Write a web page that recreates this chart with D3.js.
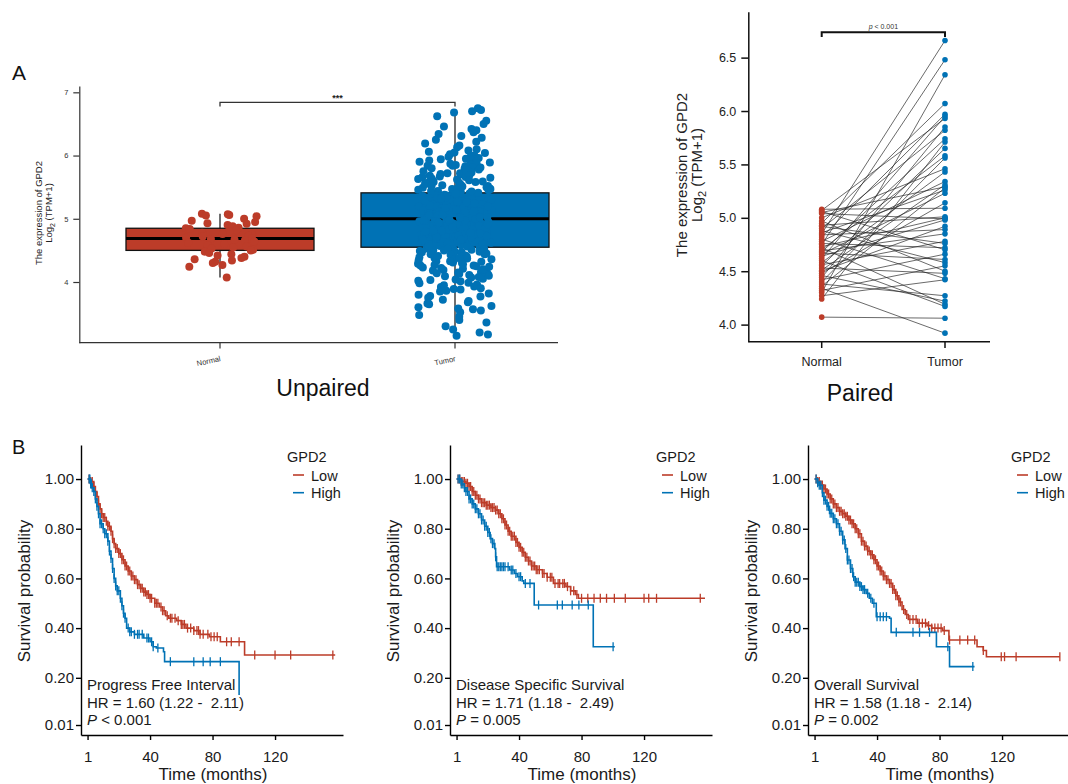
<!DOCTYPE html>
<html><head><meta charset="utf-8">
<script src="https://cdn.jsdelivr.net/npm/d3@7"></script>
<style>
body{margin:0;background:#fff;}
text{font-family:"Liberation Sans", Arial, Helvetica, sans-serif;white-space:pre;}
</style></head><body>
<svg id="c" width="1068" height="784"></svg>
<script>
const RED = "#BC3C29", BLUE = "#0072B5";
const groups = ["Normal", "Tumor"];

// ---- Panel A data ----
const normalVals = [5.08,5.07,5.06,5.05,5.04,5.00,4.97,4.95,4.93,4.92,4.90,4.88,4.86,4.85,4.84,4.82,4.80,4.78,4.76,4.75,
  4.73,4.72,4.70,4.69,4.68,4.67,4.66,4.64,4.62,4.60,4.58,4.56,4.55,4.53,4.51,4.50,4.48,4.46,4.44,4.42,
  4.40,4.38,4.36,4.34,4.32,4.30,4.27,4.24,4.07];
const tumorVals = [6.75,6.72,6.70,6.68,6.62,6.55,6.50,6.46,6.42,6.40,6.37,6.34,6.31,6.28,6.25,6.22,6.19,6.16,6.13,6.10,
  6.08,6.06,6.04,6.02,6.00,5.98,5.96,5.94,5.92,5.90,5.88,5.86,5.84,5.82,5.80,5.78,5.76,5.74,5.72,5.70,
  5.68,5.66,5.64,5.62,5.60,5.58,5.57,5.56,5.54,5.53,5.52,5.50,5.49,5.48,5.47,5.46,5.45,5.44,5.43,5.42,
  5.41,5.40,5.39,5.38,5.37,5.36,5.35,5.34,5.33,5.32,5.31,5.30,5.29,5.28,5.27,5.26,5.25,5.24,5.23,5.22,
  5.21,5.20,5.19,5.18,5.17,5.16,5.15,5.14,5.13,5.12,5.11,5.10,5.09,5.08,5.07,5.06,5.05,5.04,5.03,5.02,
  5.01,5.00,4.99,4.98,4.97,4.96,4.95,4.94,4.93,4.92,4.91,4.90,4.89,4.88,4.87,4.86,4.85,4.84,4.83,4.82,
  4.81,4.80,4.79,4.78,4.77,4.76,4.75,4.74,4.73,4.72,4.71,4.70,4.69,4.68,4.67,4.66,4.65,4.64,4.63,4.62,
  4.61,4.60,4.59,4.58,4.57,4.56,4.55,
  5.35,5.31,5.27,5.22,5.18,5.13,5.08,5.04,5.01,4.99,4.97,4.93,4.88,4.84,4.79,4.74,4.69,4.64,4.60,4.57,
  5.25,5.15,5.05,4.95,4.85,4.75,4.65,5.38,5.20,5.10,5.00,4.90,4.80,4.70,4.62,5.92,5.84,5.72,5.66,5.58,
  4.54,4.53,4.52,4.51,4.50,4.48,4.47,4.46,4.45,4.43,4.42,4.40,4.38,4.36,4.35,4.33,4.31,4.29,4.27,4.25,
  4.23,4.21,4.19,4.17,4.15,4.13,4.11,4.09,4.07,4.05,4.03,4.01,3.99,3.96,3.93,3.90,3.88,3.85,3.82,3.80,
  3.78,3.75,3.72,3.70,3.68,3.65,3.62,3.60,3.57,3.55,3.52,3.48,3.45,3.40,3.36,3.30,3.25,3.20,3.17,3.15,
  4.48,4.44,4.39,4.32,4.26,4.18,4.12,
  5.90,5.87,5.83,5.79,5.75,5.71,5.67,5.63,5.59,5.55,5.51,5.47,5.44,5.41,5.39,5.36,5.33,5.30,5.28,5.26,
  5.23,5.21,5.19,5.16,5.14,5.12,5.10,5.07,5.05,5.03,5.02,5.00,4.98,4.96,4.94,4.92,4.90,4.88,4.86,4.83,
  4.81,4.78,4.76,4.73,4.71,4.68,4.66,4.63,4.61,4.58,4.56,4.53,4.50,4.47,4.44,4.41,4.37,4.34,4.30,4.26,
  4.22,4.16,4.10,4.04,3.98,3.92,3.86,3.77,3.66,3.58,
  6.05,5.99,5.95,5.89,5.85,5.81,5.77,5.73,5.69,5.65,5.61,5.57,5.52,5.48,5.43,5.40,5.37,5.34,5.32,5.29,
  5.24,5.20,5.17,5.11,5.06,5.02,4.98,4.95,4.91,4.87,4.82,4.77,4.72,4.67,4.62,4.57,4.52,4.49,4.45,4.41,
  4.38,4.33,4.28,4.24,4.20,4.14,4.08,4.02,3.95,3.89];
const boxQ1 = [4.50, 4.55];
const boxMed = [4.69, 5.00];
const boxQ3 = [4.85, 5.41];
const whiskLo = [4.07, 3.25];
const whiskHi = [5.08, 6.70];
const unpairedYTicks = [4, 5, 6, 7];

const pairedTumor = [5.09,5.93,4.70,5.29,4.99,5.46,4.50,6.07,5.01,4.76,5.82,4.58,5.26,6.66,4.89,5.97,4.43,5.34,4.72,6.48,
  5.00,4.19,5.58,4.85,5.74,4.61,5.23,4.98,5.95,4.17,5.43,4.78,5.65,4.48,5.31,4.92,5.14,4.22,5.85,4.66,
  5.56,4.27,5.28,3.92,4.55,6.34,4.42,5.71,4.06];
const pairedYTicks = [4.0, 4.5, 5.0, 5.5, 6.0, 6.5];

// ---- Panel B data (time in months, survival) ----
const kmYTicks = [0.01, 0.2, 0.4, 0.6, 0.8, 1.0];
const kmXTicks = [0, 40, 80, 120];
const kmXTickLabels = ["1", "40", "80", "120"];
const kmTitles = ["Progress Free Interval", "Disease Specific Survival", "Overall Survival"];
const kmHR = ["HR = 1.60 (1.22 -  2.11)", "HR = 1.71 (1.18 -  2.49)", "HR = 1.58 (1.18 -  2.14)"];
const kmP = [" < 0.001", " = 0.005", " = 0.002"];

const pfiLow = [[0,1],[2,0.99],[4,0.97],[5,0.95],[6,0.93],[7,0.90],[8,0.88],[9,0.86],[10,0.845],[12,0.83],[13,0.81],[15,0.79],
  [16,0.76],[17,0.74],[18,0.72],[20,0.70],[22,0.675],[24,0.65],[26,0.63],[28,0.61],[30,0.595],[32,0.575],[34,0.56],[36,0.545],
  [38,0.535],[40,0.52],[43,0.50],[46,0.485],[48,0.47],[50,0.45],[52,0.44],[57,0.43],[60,0.415],[63,0.40],[68,0.39],[72,0.375],
  [78,0.365],[85,0.345],[100.5,0.292],[158.5,0.292]];
const pfiHigh = [[0,1],[2,0.98],[3,0.965],[4,0.95],[5,0.92],[6,0.89],[7,0.86],[8,0.82],[10,0.80],[11,0.78],[13,0.75],[14,0.71],
  [15,0.68],[16,0.64],[17,0.60],[18,0.57],[19,0.55],[21,0.52],[22,0.49],[23,0.46],[24,0.44],[25,0.40],[27,0.385],[30,0.375],
  [36,0.36],[40,0.345],[42,0.325],[44,0.32],[48.6,0.305],[49.3,0.265],[97,0.131]];
const dssLow = [[0,1],[3,0.99],[6,0.983],[8,0.97],[10,0.95],[12,0.935],[14,0.92],[16,0.905],[19,0.895],[22,0.885],[25,0.875],
  [27,0.86],[29,0.84],[31,0.815],[33,0.79],[35,0.77],[38,0.745],[40,0.725],[42,0.705],[44,0.685],[46,0.67],[48,0.65],[51,0.635],
  [55,0.62],[58,0.605],[62,0.58],[70,0.567],[73,0.55],[76,0.535],[78,0.52],[159,0.52]];
const dssHigh = [[0,1],[3,0.98],[5,0.965],[6,0.95],[8,0.92],[10,0.90],[12,0.88],[14,0.86],[16,0.835],[18,0.81],[20,0.785],
  [21.5,0.76],[23,0.74],[24.5,0.72],[25,0.687],[25.6,0.647],[34,0.634],[37,0.62],[39,0.607],[42,0.59],[43,0.58],[49.7,0.493],
  [87.5,0.325],[101.3,0.325]];
const osLow = [[0,1],[2,0.99],[4,0.976],[6,0.96],[8,0.94],[10,0.92],[12,0.90],[14,0.885],[16,0.87],[18,0.86],[20,0.85],[22,0.835],
  [24,0.82],[26,0.80],[28,0.78],[30,0.75],[32,0.73],[34,0.71],[36,0.695],[38,0.675],[40,0.65],[42,0.63],[44,0.61],[46,0.595],
  [48,0.58],[50,0.555],[52,0.53],[54,0.505],[56,0.475],[58,0.455],[60,0.435],[66,0.42],[72,0.41],[75,0.40],[82,0.39],[86,0.352],
  [104,0.325],[108,0.31],[110,0.285],[157,0.285]];
const osHigh = [[0,1],[2,0.985],[3,0.975],[5,0.945],[6,0.915],[8,0.89],[9.6,0.862],[12,0.84],[14,0.82],[16,0.79],[18,0.755],
  [19.5,0.72],[21,0.674],[23,0.64],[24.5,0.607],[26,0.585],[29,0.567],[31,0.555],[33,0.54],[35,0.52],[37,0.50],[39.5,0.446],
  [48,0.44],[49,0.383],[78,0.325],[86.4,0.245],[102.4,0.245]];

const pfiLowCens = [1,2,3,4,5,6,7,8,9,10,11,12,13,14,15,16,17,18,19,20,21,22,23,24,25,26,27,28,29,30,31,32,33,34,35,36,37,38,39,40,
  41,43,44,45,47,48,49,51,53,54,56,58,60,61,62,64,66,68,70,71,72,74,77,79,81,83,89,92,97,107,120,130,157];
const pfiHighCens = [1,1.5,2,2.5,3,4,5,6,7,8,9,10,11,12,13,14,15,16,17,18,19,20,21,22,23,24,26,27,28,30,32,33,35,38,39,41,42,45,
  53,68,74,78.5,85];
const dssLowCens = [1,2,3,4,5,6,7,8,9,10,11,12,13,14,15,16,17,18,19,20,21,22,23,24,25,26,27,28,29,30,31,32,33,34,35,36,37,38,39,40,
  41,42,43,44,45,46,47,48,49,50,51,52,53,55,56,58,60,61,63,65,66,68,69,71,73,75,77,80,84,88,92,96,101,108,120,123,128,156];
const dssHighCens = [1,2,3,4,5,6,7,8,9,10,11,12,13,14,15,16,17,18,19,20,21,22,23,24,25,26,27,28,29,30,31,33,35,36,38,40,41,44,47,
  52.5,64.5,67.7,74,78.3,84.3,100.2];
const osLowCens = [1,2,3,4,5,6,7,8,9,10,11,12,13,14,15,16,17,18,19,20,21,22,23,24,25,26,27,28,29,30,31,32,33,34,35,36,37,38,39,40,
  41,42,43,44,45,46,47,48,49,50,51,52,53,54,55,57,59,61,63,65,67,69,71,73,75,77,79,81,83,86.4,93,98,102.5,108,119.5,121.6,129,157];
const osHighCens = [1,2,3,4,5,6,7,8,9,10,11,12,13,14,15,16,17,18,19,20,21,22,23,24,25,26,27,28,29,30,31,32,34,36,38,40,42,44,46,
  52.3,63,67.2,73.6,85.3,101.3];

const kmLow = [pfiLow, dssLow, osLow];
const kmHigh = [pfiHigh, dssHigh, osHigh];
const kmLowCens = [pfiLowCens, dssLowCens, osLowCens];
const kmHighCens = [pfiHighCens, dssHighCens, osHighCens];

// ================== drawing ==================
const svg = d3.select("#c");

// ---------- A: unpaired ----------
const yU = d3.scaleLinear().domain([3.04, 7.1]).range([342.7, 86]);
const xU = d3.scalePoint().domain(groups).range([220, 455]);
const boxW = 188, jitW = 37;
// deterministic horizontal jitter (position only)
const jit = i => { const s = Math.sin(i * 78.233 + 1.7) * 43758.5453; return ((s - Math.floor(s)) - 0.5) * 2 * jitW; };

const gyU = svg.append("g").attr("transform", "translate(79.3,0)")
  .call(d3.axisLeft(yU).tickValues(unpairedYTicks).tickFormat(d3.format("d")).tickSize(6).tickSizeOuter(0).tickPadding(5));
gyU.attr("font-size", 7.5);
gyU.selectAll("text").attr("fill", "#333");
gyU.selectAll("line,path").attr("stroke", "#333").attr("stroke-width", 1.2);

svg.append("line").attr("x1", 79.3).attr("x2", 558).attr("y1", 342.7).attr("y2", 342.7)
  .attr("stroke", "#333").attr("stroke-width", 1.2);
groups.forEach(g => {
  svg.append("line").attr("x1", xU(g)).attr("x2", xU(g)).attr("y1", 342.7).attr("y2", 348.5)
    .attr("stroke", "#333").attr("stroke-width", 1.2);
  svg.append("text").attr("transform", `translate(${xU(g) + 1},361) rotate(-12)`)
    .attr("text-anchor", "end").attr("font-size", 7.5).attr("fill", "#333").text(g);
});

// boxes
groups.forEach((g, i) => {
  const col = i === 0 ? RED : BLUE;
  svg.append("line").attr("x1", xU(g)).attr("x2", xU(g))
    .attr("y1", yU(whiskLo[i])).attr("y2", yU(whiskHi[i])).attr("stroke", "#222").attr("stroke-width", 1.3);
  svg.append("rect").attr("x", xU(g) - boxW / 2).attr("width", boxW)
    .attr("y", yU(boxQ3[i])).attr("height", yU(boxQ1[i]) - yU(boxQ3[i]))
    .attr("fill", col).attr("stroke", "#111").attr("stroke-width", 1.3);
  svg.append("line").attr("x1", xU(g) - boxW / 2).attr("x2", xU(g) + boxW / 2)
    .attr("y1", yU(boxMed[i])).attr("y2", yU(boxMed[i])).attr("stroke", "#000").attr("stroke-width", 3);
});
svg.append("g").selectAll("circle").data(normalVals).join("circle")
  .attr("cx", (d, i) => xU("Normal") + jit(i + 500)).attr("cy", d => yU(d)).attr("r", 4).attr("fill", RED);
svg.append("g").selectAll("circle").data(tumorVals).join("circle")
  .attr("cx", (d, i) => xU("Tumor") + jit(i)).attr("cy", d => yU(d)).attr("r", 4).attr("fill", BLUE);

// bracket
svg.append("path").attr("d", `M${xU("Normal")},106.5V102.3H${xU("Tumor")}V106.5`)
  .attr("fill", "none").attr("stroke", "#333").attr("stroke-width", 1.3);
svg.append("text").attr("x", (xU("Normal") + xU("Tumor")) / 2).attr("y", 101).attr("text-anchor", "middle")
  .attr("font-size", 9).attr("font-weight", "bold").attr("fill", "#222").text("***");

// y title
svg.append("text").attr("transform", "translate(42,213) rotate(-90)").attr("text-anchor", "middle")
  .attr("font-size", 9.5).attr("fill", "#222").text("The expression of GPD2");
const t2 = svg.append("text").attr("transform", "translate(52,213) rotate(-90)").attr("text-anchor", "middle")
  .attr("font-size", 9.5).attr("fill", "#222");
t2.append("tspan").text("Log");
t2.append("tspan").attr("font-size", 7).attr("dy", 2.5).text("2");
t2.append("tspan").attr("dy", -2.5).text(" (TPM+1)");

svg.append("text").attr("x", 12).attr("y", 80).attr("font-size", 21).attr("fill", "#111").text("A");
svg.append("text").attr("x", 323).attr("y", 396).attr("text-anchor", "middle").attr("font-size", 23).attr("fill", "#111").text("Unpaired");

// ---------- A: paired ----------
const yP = d3.scaleLinear().domain([3.84, 6.93]).range([341.7, 11.7]);
const xP = d3.scalePoint().domain(groups).range([821.7, 945]);

svg.append("g").selectAll("line").data(normalVals).join("line")
  .attr("x1", xP("Normal")).attr("y1", d => yP(d))
  .attr("x2", xP("Tumor")).attr("y2", (d, i) => yP(pairedTumor[i]))
  .attr("stroke", "#222").attr("stroke-width", 0.8).attr("stroke-opacity", 0.85);
svg.append("g").selectAll("circle").data(normalVals).join("circle")
  .attr("cx", xP("Normal")).attr("cy", d => yP(d)).attr("r", 2.8).attr("fill", RED);
svg.append("g").selectAll("circle").data(pairedTumor).join("circle")
  .attr("cx", xP("Tumor")).attr("cy", d => yP(d)).attr("r", 2.8).attr("fill", BLUE);

const gyP = svg.append("g").attr("transform", "translate(748.3,0)")
  .call(d3.axisLeft(yP).tickValues(pairedYTicks).tickFormat(d3.format(".1f")).tickSize(7).tickSizeOuter(0).tickPadding(5));
gyP.attr("font-size", 12.5);
gyP.selectAll("text").attr("fill", "#222");
gyP.selectAll("line,path").attr("stroke", "#111").attr("stroke-width", 1.5);
svg.append("line").attr("x1", 748.3).attr("x2", 990).attr("y1", 341.7).attr("y2", 341.7)
  .attr("stroke", "#111").attr("stroke-width", 1.5);
groups.forEach(g => {
  svg.append("line").attr("x1", xP(g)).attr("x2", xP(g)).attr("y1", 341.7).attr("y2", 348)
    .attr("stroke", "#111").attr("stroke-width", 1.5);
  svg.append("text").attr("x", xP(g)).attr("y", 365.5).attr("text-anchor", "middle")
    .attr("font-size", 12.5).attr("fill", "#222").text(g);
});
svg.append("path").attr("d", `M${xP("Normal")},37V32.3H${xP("Tumor")}V37`)
  .attr("fill", "none").attr("stroke", "#111").attr("stroke-width", 2);
const pt = svg.append("text").attr("x", (xP("Normal") + xP("Tumor")) / 2).attr("y", 28.5).attr("text-anchor", "middle")
  .attr("font-size", 7).attr("fill", "#333");
pt.append("tspan").attr("font-style", "italic").text("p");
pt.append("tspan").text(" < 0.001");

svg.append("text").attr("transform", "translate(687,175) rotate(-90)").attr("text-anchor", "middle")
  .attr("font-size", 15).attr("fill", "#222").text("The expression of GPD2");
const t3 = svg.append("text").attr("transform", "translate(702,175) rotate(-90)").attr("text-anchor", "middle")
  .attr("font-size", 15).attr("fill", "#222");
t3.append("tspan").text("Log");
t3.append("tspan").attr("font-size", 11).attr("dy", 4).text("2");
t3.append("tspan").attr("dy", -4).text(" (TPM+1)");
svg.append("text").attr("x", 860).attr("y", 401).attr("text-anchor", "middle").attr("font-size", 23).attr("fill", "#111").text("Paired");

// ---------- B: Kaplan-Meier ----------
svg.append("text").attr("x", 12).attr("y", 454).attr("font-size", 20).attr("fill", "#111").text("B");
const kmLefts = [81, 450, 808];
const survAt = (knots, t) => { let s = 1; for (const [kt, ks] of knots) { if (kt <= t) s = ks; else break; } return s; };

kmLefts.forEach((L, p) => {
  const xK = d3.scaleLinear().domain([-4.2, 163.5]).range([L, L + 262]);
  const yK = d3.scaleLinear().domain([-0.0302, 1.137]).range([735, 445]);
  const g = svg.append("g");
  const line = d3.line().x(d => xK(d[0])).y(d => yK(d[1])).curve(d3.curveStepAfter);

  [[kmLow[p], kmLowCens[p], RED], [kmHigh[p], kmHighCens[p], BLUE]].forEach(([knots, cens, col]) => {
    g.append("path").datum(knots).attr("d", line).attr("fill", "none").attr("stroke", col).attr("stroke-width", 1.6);
    g.append("g").selectAll("line").data(cens).join("line")
      .attr("x1", d => xK(d)).attr("x2", d => xK(d))
      .attr("y1", d => yK(survAt(knots, d)) - 4.5).attr("y2", d => yK(survAt(knots, d)) + 4.5)
      .attr("stroke", col).attr("stroke-width", 1.3);
  });

  const gy = g.append("g").attr("transform", `translate(${L},0)`)
    .call(d3.axisLeft(yK).tickValues(kmYTicks).tickFormat(d => d === 0.01 ? "0.01" : d3.format(".2f")(d))
      .tickSize(5).tickSizeOuter(0).tickPadding(2));
  const gx = g.append("g").attr("transform", "translate(0,735)")
    .call(d3.axisBottom(xK).tickValues(kmXTicks).tickFormat((d, i) => kmXTickLabels[i])
      .tickSize(5).tickSizeOuter(0).tickPadding(11));
  [gy, gx].forEach(a => {
    a.attr("font-size", 15);
    a.selectAll("text").attr("fill", "#1a1a1a");
    a.selectAll("line,path").attr("stroke", "#000").attr("stroke-width", 1.4);
  });

  g.append("text").attr("transform", `translate(${L - 51.5},591) rotate(-90)`).attr("text-anchor", "middle")
    .attr("font-size", 17).attr("fill", "#1a1a1a").text("Survival probability");
  g.append("text").attr("x", L + 132).attr("y", 780).attr("text-anchor", "middle")
    .attr("font-size", 17).attr("fill", "#1a1a1a").text("Time (months)");

  // legend
  const lx = p === 2 ? L + 203 : L + 206;
  g.append("text").attr("x", lx).attr("y", 462).attr("font-size", 14.5).attr("fill", "#1a1a1a").text("GPD2");
  [["Low", RED, 475], ["High", BLUE, 492.7]].forEach(([lab, col, yy]) => {
    g.append("line").attr("x1", lx + 6).attr("x2", lx + 17).attr("y1", yy).attr("y2", yy)
      .attr("stroke", col).attr("stroke-width", 1.6);
    g.append("text").attr("x", lx + 24).attr("y", yy + 5.5).attr("font-size", 14.5).attr("fill", "#1a1a1a").text(lab);
  });

  // annotation
  g.append("text").attr("x", L + 6).attr("y", 690).attr("font-size", 15).attr("fill", "#1a1a1a").text(kmTitles[p]);
  g.append("text").attr("x", L + 6).attr("y", 707.5).attr("font-size", 15).attr("fill", "#1a1a1a").text(kmHR[p]);
  const pp = g.append("text").attr("x", L + 6).attr("y", 725).attr("font-size", 15).attr("fill", "#1a1a1a");
  pp.append("tspan").attr("font-style", "italic").text("P");
  pp.append("tspan").text(kmP[p]);
});
</script>
</body></html>
